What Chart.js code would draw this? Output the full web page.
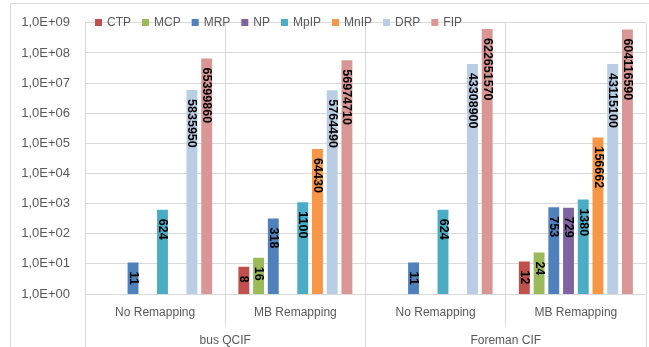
<!DOCTYPE html>
<html>
<head>
<meta charset="utf-8">
<script src="https://cdn.jsdelivr.net/npm/chart.js@4.4.1/dist/chart.umd.min.js"></script>
<style>
  html, body { margin: 0; padding: 0; background: #fff; }
  #wrap { width: 649px; height: 347px; }
</style>
</head>
<body>
<div id="wrap"><canvas id="c" width="649" height="347"></canvas></div>
<script>
// Remapping scenarios (inner axis level) and video sequences (outer level)
const subCategories = ['No Remapping', 'MB Remapping', 'No Remapping', 'MB Remapping'];
const sequences = ['bus QCIF', 'Foreman CIF'];

// Series names and values per scenario (null = no bar)
const seriesNames = ['CTP', 'MCP', 'MRP', 'NP', 'MpIP', 'MnIP', 'DRP', 'FIP'];
const CTP  = [null, 8, null, 12];
const MCP  = [null, 16, null, 24];
const MRP  = [11, 318, 11, 753];
const NP   = [null, null, null, 729];
const MpIP = [624, 1100, 624, 1380];
const MnIP = [null, 64430, null, 156662];
const DRP  = [5835950, 5764490, 43308900, 43115100];
const FIP  = [65399860, 56974710, 622651570, 604116590];

// Logarithmic axis ticks
const tickValues = [1, 1e1, 1e2, 1e3, 1e4, 1e5, 1e6, 1e7, 1e8, 1e9];
const tickLabels = ['1,0E+00', '1,0E+01', '1,0E+02', '1,0E+03', '1,0E+04',
                    '1,0E+05', '1,0E+06', '1,0E+07', '1,0E+08', '1,0E+09'];

const seriesValues = [CTP, MCP, MRP, NP, MpIP, MnIP, DRP, FIP];
const seriesColors = ['#C0504D', '#9BBB59', '#4F81BD', '#8064A2',
                      '#4BACC6', '#F79646', '#B9CDE5', '#D99694'];

const FONT = '"Liberation Sans", Arial, sans-serif';
const GRID = '#D9D9D9';
const TEXT = '#595959';

// Outer frame of the chart
const framePlugin = {
  id: 'frame',
  beforeDraw(chart) {
    const ctx = chart.ctx;
    ctx.save();
    ctx.fillStyle = '#fff';
    ctx.fillRect(0, 0, chart.width, chart.height);
    ctx.strokeStyle = GRID;
    ctx.lineWidth = 1;
    ctx.beginPath();
    ctx.moveTo(10.5, chart.height);
    ctx.lineTo(10.5, 3.5);
    ctx.lineTo(chart.width, 3.5);
    ctx.stroke();
    ctx.restore();
  }
};

// Legend drawn across the top of the plot area
const legendPlugin = {
  id: 'topLegend',
  afterDraw(chart) {
    const ctx = chart.ctx;
    ctx.save();
    ctx.font = '12px ' + FONT;
    ctx.textBaseline = 'middle';
    ctx.textAlign = 'left';
    let x = 95;
    const y = 23;
    chart.data.datasets.forEach(ds => {
      ctx.fillStyle = ds.backgroundColor;
      ctx.fillRect(x, y - 4, 7, 7);
      x += 12;
      ctx.fillStyle = TEXT;
      ctx.fillText(ds.label, x, y);
      x += ctx.measureText(ds.label).width + 11;
    });
    ctx.restore();
  }
};

// Vertical value labels inside the top of each bar
const valueLabelPlugin = {
  id: 'valueLabels',
  afterDatasetsDraw(chart) {
    const ctx = chart.ctx;
    ctx.save();
    ctx.font = 'bold 12.5px ' + FONT;
    ctx.fillStyle = '#000';
    ctx.textAlign = 'left';
    ctx.textBaseline = 'middle';
    chart.data.datasets.forEach((ds, i) => {
      const meta = chart.getDatasetMeta(i);
      meta.data.forEach((bar, j) => {
        const v = ds.data[j];
        if (v == null) return;
        ctx.save();
        ctx.translate(bar.x, bar.y + 9);
        ctx.rotate(Math.PI / 2);
        ctx.fillText(String(v), 0, 0);
        ctx.restore();
      });
    });
    ctx.restore();
  }
};

new Chart(document.getElementById('c'), {
  type: 'bar',
  data: {
    labels: subCategories,
    datasets: seriesNames.map((name, i) => ({
      label: name,
      data: seriesValues[i],
      backgroundColor: seriesColors[i],
      borderWidth: 0,
      categoryPercentage: 0.84,
      barPercentage: 0.74,
      xAxisID: 'x',
      yAxisID: 'y'
    }))
  },
  options: {
    responsive: false,
    animation: false,
    devicePixelRatio: 1,
    layout: { padding: { top: 12, right: 3, left: 0, bottom: 0 } },
    plugins: {
      legend: { display: false },
      tooltip: { enabled: false }
    },
    scales: {
      y: {
        type: 'logarithmic',
        min: 1,
        max: 1e9,
        afterBuildTicks(scale) {
          scale.ticks = tickValues.map(v => ({ value: v }));
        },
        afterFit(scale) { scale.width = 85; },
        ticks: {
          padding: 15,
          color: TEXT,
          font: { family: FONT, size: 13 },
          callback: (v) => tickLabels[tickValues.indexOf(v)]
        },
        grid: { color: GRID, lineWidth: 1, drawTicks: false },
        border: { display: false }
      },
      x: {
        type: 'category',
        position: 'bottom',
        offset: true,
        afterFit(scale) { scale.height = 27; },
        ticks: {
          autoSkip: false,
          maxRotation: 0,
          padding: -22,
          color: TEXT,
          font: { family: FONT, size: 12 }
        },
        grid: { offset: true, color: GRID, tickColor: GRID, tickLength: 33, lineWidth: 1 },
        border: { display: true, color: GRID }
      },
      x2: {
        type: 'category',
        position: 'bottom',
        labels: sequences,
        offset: true,
        afterFit(scale) { scale.height = 26; },
        ticks: {
          autoSkip: false,
          maxRotation: 0,
          padding: -14,
          color: TEXT,
          font: { family: FONT, size: 12 }
        },
        grid: { offset: true, drawOnChartArea: false, color: GRID, tickColor: GRID, tickLength: 26, lineWidth: 1 },
        border: { display: false }
      }
    }
  },
  plugins: [framePlugin, legendPlugin, valueLabelPlugin]
});
</script>
</body>
</html>
